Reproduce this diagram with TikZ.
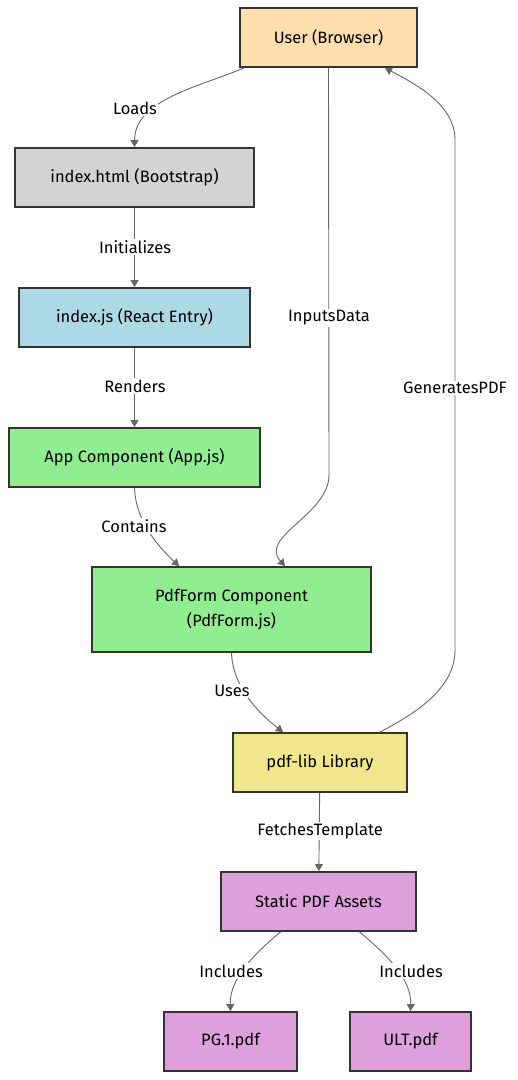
\documentclass[tikz,border=0pt]{standalone}
\usepackage{fontspec}
\setmainfont{Fira Sans}
\usetikzlibrary{arrows.meta,positioning}
\definecolor{navajo}{HTML}{FFDEAD}
\definecolor{lgray}{HTML}{D3D3D3}
\definecolor{lblue}{HTML}{ADD8E6}
\definecolor{lgreen}{HTML}{90EE90}
\definecolor{khakiy}{HTML}{F0E68C}
\definecolor{plumc}{HTML}{DDA0DD}
\definecolor{edgegray}{HTML}{666666}
\definecolor{bordergray}{HTML}{333333}
\begin{document}
\begin{tikzpicture}[x=1pt,y=-1pt,>={Triangle[length=7pt,width=8pt]},
    box/.style={draw=bordergray,line width=1.8pt,minimum height=59pt,
                inner sep=2pt,align=center,font=\fontsize{16.5}{25}\selectfont},
    flow/.style={->,draw=edgegray,line width=0.9pt},
    lbl/.style={fill=white,inner sep=1.5pt,font=\fontsize{16.5}{18}\selectfont}]
  \useasboundingbox (0,0) rectangle (518,1080);
  % nodes
  \node[box,fill=navajo,minimum width=177pt] (user) at (328.5,37.5) {User (Browser)};
  \node[box,fill=lgray,minimum width=239pt] (html) at (134.5,177.5) {index.html (Bootstrap)};
  \node[box,fill=lblue,minimum width=231pt] (jsentry) at (134.5,317.5) {index.js (React Entry)};
  \node[box,fill=lgreen,minimum width=251pt] (app) at (134.5,457.5) {App Component (App.js)};
  \node[box,fill=lgreen,minimum width=279pt,minimum height=85pt] (pdfform) at (231.5,609.5)
      {PdfForm Component\\(PdfForm.js)};
  \node[box,fill=khakiy,minimum width=174pt] (pdflib) at (320,762.5) {pdf-lib Library};
  \node[box,fill=plumc,minimum width=195pt] (assets) at (318.5,901.5) {Static PDF Assets};
  \node[box,fill=plumc,minimum width=133pt] (pgone) at (230.5,1041.5) {PG.1.pdf};
  \node[box,fill=plumc,minimum width=121pt] (ult) at (410.5,1041.5) {ULT.pdf};
  % connectors
  \draw[flow] ([xshift=5pt]user.south west) to[out=-157,in=90,looseness=0.9] (html.north);
  \draw[flow] (html) -- (jsentry);
  \draw[flow] (jsentry) -- (app);
  \draw[flow] (app.south) to[out=-88,in=137,looseness=0.9] ([xshift=88pt]pdfform.north west);
  \draw[flow] (user.south) -- (329,475) to[out=-90,in=132,looseness=1] ([xshift=53.5pt]pdfform.north);
  \draw[flow] (pdfform.south) to[out=-88,in=142,looseness=0.9] ([xshift=-37pt]pdflib.north);
  \draw[flow] ([xshift=60pt]pdflib.north) to[out=28,in=-90,looseness=0.9] (455,650)
      -- (455,140) to[out=90,in=-28,looseness=0.9] ([xshift=56.5pt]user.south);
  \draw[flow] (pdflib) -- (assets);
  \draw[flow] ([xshift=-38pt]assets.south) to[out=-140,in=92,looseness=0.9] (pgone.north);
  \draw[flow] ([xshift=41pt]assets.south) to[out=-40,in=88,looseness=0.9] (ult.north);
  % labels
  \node[lbl] (lloads) at (135,108) {Loads};
  \node[lbl] (linit) at (135,247) {Initializes};
  \node[lbl] (lrend) at (135,386) {Renders};
  \node[lbl] (lcont) at (134,526) {Contains};
  \node[lbl] (linput) at (329,318) {InputsData};
  \node[lbl] (luses) at (232,691) {Uses};
  \node[lbl] (lgen) at (455,388) {GeneratesPDF};
  \node[lbl] (lfetch) at (320,831) {FetchesTemplate};
  \node[lbl] (lincl) at (231,971) {Includes};
  \node[lbl] (lincr) at (411,971) {Includes};
\end{tikzpicture}
\end{document}
